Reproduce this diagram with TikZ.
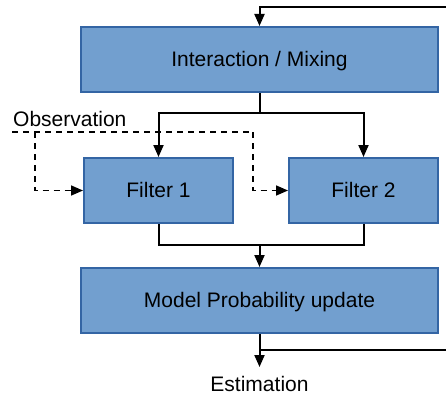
\documentclass[tikz,border=0pt]{standalone}
\usepackage{fontspec}
\setmainfont{Liberation Sans}
\usetikzlibrary{arrows.meta}
\definecolor{boxfill}{HTML}{729FCF}
\definecolor{boxline}{HTML}{3465A4}
\begin{document}
\begin{tikzpicture}[x=1pt,y=-1pt,
  blk/.style={draw=boxline,fill=boxfill,line width=2pt,minimum height=65pt,inner sep=0pt,text height=19pt,text depth=4.45pt,font=\fontsize{21}{25}\selectfont},
  lbl/.style={font=\fontsize{21}{25}\selectfont,inner sep=0pt},
  conn/.style={line width=2pt,black},
  arr/.style={conn,-{Triangle[length=12pt,width=10pt]}},
  dsh/.style={line width=1.6pt,dash pattern=on 6pt off 5pt}]
\useasboundingbox (0,0) rectangle (446,396);
\node[blk,minimum width=357pt] (top) at (259.5,59.5) {Interaction / Mixing};
\node[blk,minimum width=149pt] (f1) at (158.5,190.5) {Filter 1};
\node[blk,minimum width=149pt] (f2) at (363.5,190.5) {Filter 2};
\node[blk,minimum width=357pt] (model) at (259.5,300.5) {Model Probability update};
\node[lbl,anchor=north,inner ysep=9pt] (est) at (259.5,367) {Estimation};
\node[lbl,anchor=west] (obs) at (13,119) {Observation};
% feedback top
\coordinate (fbt) at (446,7);
\draw[arr] (fbt) -| (top.north);
% split
\coordinate (split) at (259.5,113);
\draw[conn] (top.south) -- (split);
\draw[arr] (split) -| (f1.north);
\draw[arr] (split) -| (f2.north);
% join
\coordinate (join) at (259.5,245);
\draw[conn] (f1.south) |- (join) -| (f2.south);
\draw[arr] (join) -- (model.north);
% output
\draw[arr] (model.south) -- (est.north);
\coordinate (fbb) at (446,350);
\draw[conn] (model.south |- fbb) -- (fbb);
% observation
\coordinate (o0) at (12,132);
\coordinate (o1) at (253,132);
\coordinate (o2) at (35,132);
\draw[dsh] (o0) -- (o1);
\draw[dsh,-{Triangle[length=12pt,width=10pt]}] (o1) |- (f2.west);
\draw[dsh,-{Triangle[length=12pt,width=10pt]}] (o2) |- (f1.west);
\end{tikzpicture}
\end{document}
